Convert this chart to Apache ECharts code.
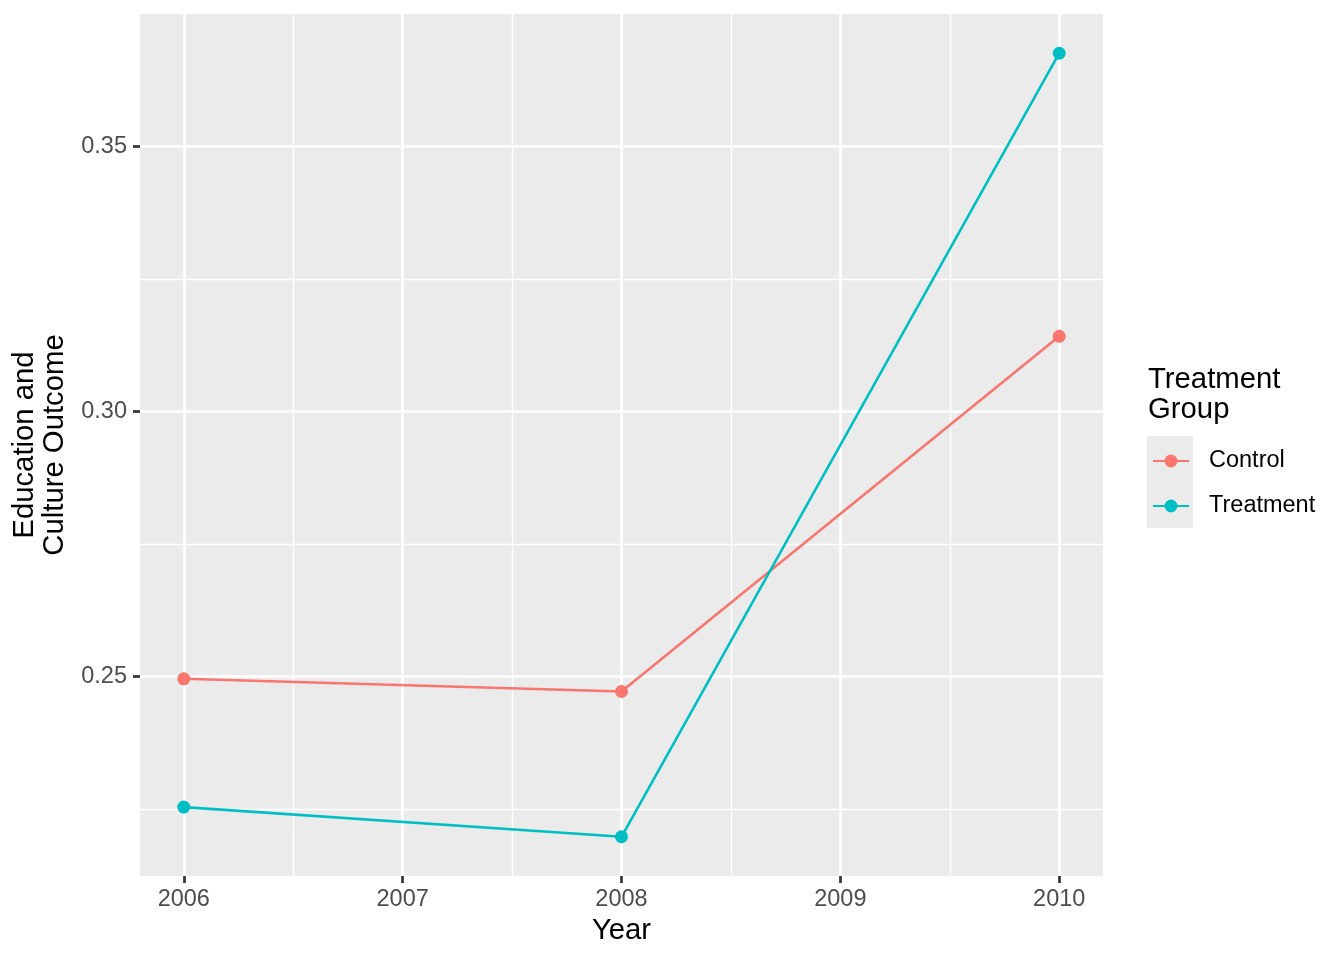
<!DOCTYPE html>
<html>
<head>
<meta charset="utf-8">
<script src="https://cdn.jsdelivr.net/npm/echarts@6/dist/echarts.min.js"></script>
<style>
html, body { margin: 0; padding: 0; background: #fff; }
#chart { width: 1344px; height: 960px; }
</style>
</head>
<body>
<div id="chart"></div>
<script>
// ---- data ----
const years = [2006, 2008, 2010];
const seriesNames = ['Control', 'Treatment'];
const controlValues = [0.2496, 0.2472, 0.3142];
const treatmentValues = [0.2254, 0.2198, 0.3676];
const xTicks = [2006, 2007, 2008, 2009, 2010];
const xMinorTicks = [2006.5, 2007.5, 2008.5, 2009.5];
const yTicks = [0.25, 0.30, 0.35];
const yMinorTicks = [0.225, 0.275, 0.325];
const xRange = [2005.8, 2010.2];
const yRange = [0.2124, 0.3750];

const FONT = 'Liberation Sans, Arial, Helvetica, sans-serif';
const colors = ['#F8766D', '#00BFC4'];

const chart = echarts.init(document.getElementById('chart'), null, { renderer: 'canvas' });

function mkSeries(name, vals, color) {
  return {
    name: name,
    type: 'line',
    xAxisIndex: 0,
    yAxisIndex: 0,
    data: years.map((y, i) => [y, vals[i]]),
    symbol: 'circle',
    symbolSize: 13,
    showSymbol: true,
    lineStyle: { color: color, width: 2.6 },
    itemStyle: { color: color },
    emphasis: { disabled: true },
    animation: false,
    z: 5
  };
}

const option = {
  animation: false,
  grid: {
    left: 140, right: 241, top: 14, bottom: 84,
    show: true, backgroundColor: '#EBEBEB', borderWidth: 0,
    containLabel: false
  },
  xAxis: [
    {
      type: 'value', min: xRange[0], max: xRange[1],
      position: 'bottom',
      name: 'Year', nameLocation: 'middle', nameGap: 40,
      nameTextStyle: { fontFamily: FONT, fontSize: 29.3, color: '#000' },
      axisLine: { show: false },
      axisTick: { show: true, length: 7, customValues: xTicks, lineStyle: { color: '#333333', width: 2.7 } },
      axisLabel: { show: true, customValues: xTicks, margin: 12, fontFamily: FONT, fontSize: 23.5, color: '#4D4D4D',
                   formatter: v => String(Math.round(v)) },
      splitLine: { show: true, lineStyle: { color: '#FFFFFF', width: 2.7 } }
    },
    {
      type: 'value', min: xRange[0], max: xRange[1],
      position: 'top',
      axisLine: { show: false },
      axisTick: { show: false, customValues: xMinorTicks },
      axisLabel: { show: false, customValues: xMinorTicks },
      splitLine: { show: true, lineStyle: { color: '#FFFFFF', width: 1.4 } }
    }
  ],
  yAxis: [
    {
      type: 'value', min: yRange[0], max: yRange[1],
      position: 'left',
      name: 'Education and\nCulture Outcome', nameLocation: 'middle', nameGap: 63,
      nameTextStyle: { fontFamily: FONT, fontSize: 29.3, color: '#000', lineHeight: 30 },
      axisLine: { show: false },
      axisTick: { show: true, length: 7, customValues: yTicks, lineStyle: { color: '#333333', width: 2.7 } },
      axisLabel: { show: true, customValues: yTicks, margin: 13, fontFamily: FONT, fontSize: 23.5, color: '#4D4D4D',
                   formatter: v => v.toFixed(2) },
      splitLine: { show: true, lineStyle: { color: '#FFFFFF', width: 2.7 } }
    },
    {
      type: 'value', min: yRange[0], max: yRange[1],
      position: 'right',
      axisLine: { show: false },
      axisTick: { show: false, customValues: yMinorTicks },
      axisLabel: { show: false, customValues: yMinorTicks },
      splitLine: { show: true, lineStyle: { color: '#FFFFFF', width: 1.4 } }
    }
  ],
  legend: {
    data: seriesNames,
    orient: 'vertical',
    left: 1152, top: 449,
    padding: 0,
    itemWidth: 36, itemHeight: 16, itemGap: 21,
    textStyle: { fontFamily: FONT, fontSize: 23.5, color: '#000', padding: [0, 0, 0, 15] },
    selectedMode: false
  },
  graphic: [
    {
      type: 'rect', left: 1147, top: 436, z: -1,
      shape: { width: 46, height: 92 },
      style: { fill: '#EBEBEB' }
    },
    {
      type: 'text', left: 1148, top: 365,
      style: { text: 'Treatment\nGroup', fontFamily: FONT, fontSize: 29.3, lineHeight: 30, fill: '#000' }
    }
  ],
  series: [
    mkSeries(seriesNames[0], controlValues, colors[0]),
    mkSeries(seriesNames[1], treatmentValues, colors[1])
  ]
};

chart.setOption(option);
</script>
</body>
</html>
